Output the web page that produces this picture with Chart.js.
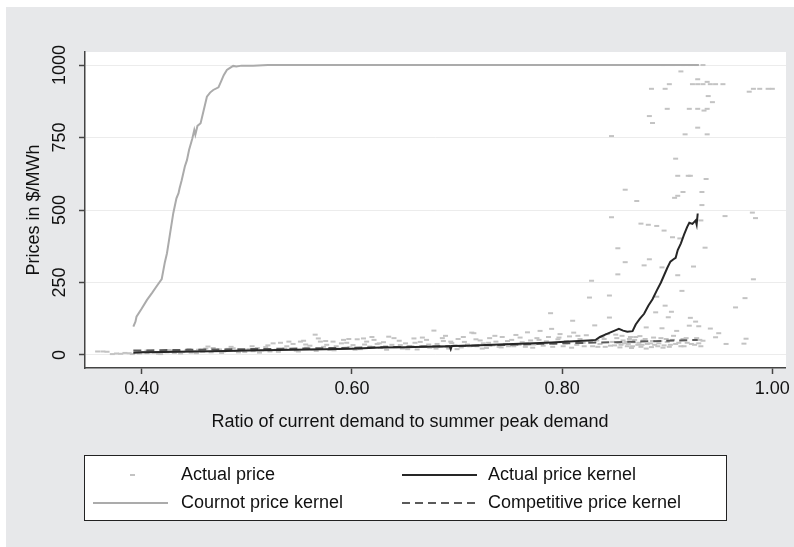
<!DOCTYPE html>
<html>
<head>
<meta charset="utf-8">
<script src="https://cdn.jsdelivr.net/npm/chart.js@4.4.1/dist/chart.umd.min.js"></script>
<style>
  body { margin: 0; background: #fff; }
  #myChart { display: block; }
</style>
</head>
<body>
<canvas id="myChart" width="794" height="547"></canvas>
<script>
// axis ticks
const xTicks = [0.40, 0.60, 0.80, 1.00];
const yTicks = [0, 250, 500, 750, 1000];

const seriesLabels = ['Actual price', 'Actual price kernel', 'Cournot price kernel', 'Competitive price kernel'];

// scatter of observed prices [ratio, $/MWh]
const actualPrice = [
  [0.358,12],[0.363,12],[0.367,11],[0.372,3],[0.376,5],[0.380,4],[0.384,7],[0.388,6],[0.391,3],[0.395,9],[0.398,5],
  [0.402,10],[0.405,6],[0.405,15],[0.409,12],[0.412,8],[0.416,4],[0.418,3],[0.420,11],[0.424,9],[0.426,17],[0.428,14],
  [0.431,7],[0.435,12],[0.437,5],[0.439,10],[0.443,16],[0.445,20],[0.447,8],[0.450,13],[0.452,6],[0.454,18],[0.458,11],
  [0.461,22],[0.463,29],[0.466,9],[0.468,24],[0.470,15],[0.474,19],[0.476,7],[0.478,12],[0.482,21],[0.485,28],[0.487,23],
  [0.490,14],[0.492,9],[0.494,17],[0.498,10],
  [0.502,20],[0.505,30],[0.506,13],[0.510,24],[0.512,8],[0.514,16],[0.518,27],[0.520,33],[0.522,12],[0.525,40],[0.528,18],
  [0.530,11],[0.532,42],[0.536,22],[0.538,30],[0.540,46],[0.544,38],[0.547,15],[0.549,12],[0.551,46],[0.554,49],[0.556,36],
  [0.557,25],[0.560,32],[0.563,19],[0.565,70],[0.566,14],[0.568,57],[0.570,46],[0.573,28],[0.575,48],[0.576,35],[0.579,17],
  [0.582,46],[0.583,16],[0.585,30],[0.588,22],[0.590,40],[0.592,52],[0.595,42],[0.597,55],[0.598,26],
  [0.601,34],[0.603,18],[0.605,54],[0.608,20],[0.611,57],[0.612,36],[0.614,46],[0.617,29],[0.619,62],[0.621,52],[0.624,38],
  [0.626,40],[0.627,24],[0.630,44],[0.632,30],[0.633,18],[0.635,63],[0.638,35],[0.640,58],[0.641,27],[0.645,49],[0.646,34],
  [0.648,22],[0.651,40],[0.653,20],[0.655,31],[0.659,57],[0.660,42],[0.662,19],[0.665,45],[0.667,60],[0.668,30],[0.671,52],
  [0.673,36],[0.674,25],[0.678,84],[0.680,22],[0.681,38],[0.684,28],[0.686,58],[0.687,48],[0.689,66],[0.692,22],[0.694,46],
  [0.695,41],[0.698,33],
  [0.700,20],[0.701,55],[0.704,26],[0.706,62],[0.707,45],[0.710,36],[0.712,30],[0.714,77],[0.716,75],[0.718,54],[0.719,30],
  [0.722,50],[0.724,22],[0.725,40],[0.728,24],[0.730,42],[0.731,58],[0.734,33],[0.736,66],[0.737,46],[0.740,28],[0.742,26],
  [0.743,62],[0.746,38],[0.748,48],[0.749,30],[0.752,52],[0.754,30],[0.756,69],[0.759,35],[0.760,60],[0.762,44],[0.765,28],
  [0.766,40],[0.767,78],[0.770,50],[0.772,25],[0.773,36],[0.776,58],[0.778,52],[0.779,83],[0.782,32],[0.784,40],[0.785,47],
  [0.787,62],[0.789,144],[0.790,90],[0.791,28],[0.793,38],[0.796,54],[0.797,60],[0.798,72],
  [0.801,30],[0.803,40],[0.804,48],[0.807,64],[0.809,25],[0.810,118],[0.811,77],[0.814,35],[0.815,66],[0.817,55],[0.820,42],
  [0.821,30],[0.823,68],[0.826,198],[0.827,48],[0.828,256],[0.829,30],[0.831,102],[0.833,50],[0.834,28],[0.836,38],[0.838,62],
  [0.840,55],[0.841,28],[0.843,72],[0.845,129],[0.845,205],[0.846,32],[0.847,475],[0.847,755],[0.848,45],[0.850,33],[0.851,70],
  [0.852,58],[0.853,368],[0.853,278],[0.854,42],[0.855,26],[0.856,35],[0.857,66],[0.858,50],[0.859,40],
  [0.860,320],[0.860,570],[0.861,45],[0.862,30],[0.863,38],[0.864,55],[0.865,62],[0.866,24],[0.867,30],[0.868,44],[0.869,52],
  [0.870,62],[0.871,531],[0.872,35],[0.873,42],[0.874,65],[0.875,453],[0.875,28],[0.876,35],[0.877,50],[0.878,309],[0.879,55],
  [0.880,95],[0.880,22],[0.881,38],[0.882,449],[0.883,330],[0.883,824],[0.884,40],[0.885,918],[0.885,27],[0.886,800],[0.886,48],
  [0.887,60],[0.888,35],[0.889,147],[0.890,445],[0.890,201],[0.891,30],[0.892,40],[0.893,48],[0.894,58],[0.895,302],[0.895,92],
  [0.896,25],[0.896,1000],[0.897,429],[0.897,33],[0.898,170],[0.898,918],[0.899,55],[0.900,849],[0.900,45],[0.901,130],
  [0.902,934],[0.902,28],[0.903,35],[0.904,149],[0.905,406],[0.905,52],[0.905,1000],[0.906,66],[0.907,542],[0.908,677],
  [0.908,38],[0.909,83],[0.910,549],[0.910,618],[0.910,275],[0.911,42],[0.912,402],[0.913,978],[0.913,30],[0.914,221],
  [0.915,562],[0.915,55],[0.915,1000],[0.916,30],[0.917,761],[0.918,58],[0.919,42],[0.920,618],[0.921,101],[0.921,849],
  [0.922,128],[0.922,618],[0.922,1000],[0.923,38],[0.924,934],[0.925,305],[0.926,35],[0.927,115],[0.928,58],[0.928,1000],
  [0.929,934],[0.929,849],[0.929,784],[0.929,951],[0.930,99],[0.930,40],[0.931,52],[0.932,464],[0.932,30],[0.933,517],
  [0.933,562],[0.934,49],[0.934,934],[0.934,1000],[0.935,843],[0.936,370],[0.937,607],[0.938,942],[0.938,849],[0.938,761],
  [0.939,893],[0.941,934],[0.941,91],[0.943,872],[0.946,934],[0.946,61],[0.949,75],[0.953,934],[0.955,479],[0.956,38],
  [0.965,164],[0.973,39],[0.974,196],[0.975,56],[0.978,908],[0.981,491],[0.982,261],[0.982,918],[0.984,472],[0.988,918],
  [0.996,918],[1.000,918]
];

const actualKernel = [
  [0.392,8],[0.400,9],[0.420,10],[0.450,12],[0.480,14],[0.500,15],[0.530,17],[0.560,19],[0.600,21],[0.627,26],[0.650,27],
  [0.680,29],[0.693,30],[0.694,20],[0.695,31],[0.709,32],[0.740,36],[0.773,40],[0.790,43],[0.811,47],[0.825,50],[0.832,52],
  [0.836,62],[0.841,70],[0.846,78],[0.850,84],[0.854,90],[0.858,84],[0.862,80],[0.867,82],[0.870,105],[0.874,125],[0.878,142],
  [0.882,170],[0.886,192],[0.890,222],[0.894,250],[0.897,275],[0.900,300],[0.903,322],[0.906,330],[0.908,335],[0.910,362],
  [0.913,385],[0.916,415],[0.919,442],[0.921,456],[0.924,452],[0.927,464],[0.928,450],[0.929,488]
];

const cournotKernel = [
  [0.392,98],[0.394,115],[0.395,132],[0.400,160],[0.405,190],[0.410,215],[0.414,236],[0.419,262],[0.422,320],[0.424,351],
  [0.427,420],[0.430,489],[0.433,540],[0.435,558],[0.436,575],[0.438,603],[0.441,650],[0.443,672],[0.445,707],[0.448,745],
  [0.450,776],[0.451,760],[0.453,790],[0.456,799],[0.459,845],[0.462,891],[0.465,905],[0.468,914],[0.473,923],[0.476,948],
  [0.478,965],[0.481,983],[0.484,990],[0.487,997],[0.490,995],[0.495,998],[0.506,998],[0.520,1000],[0.930,1000]
];

const competitiveKernel = [
  [0.392,15],[0.450,18],[0.500,20],[0.550,22],[0.600,25],[0.650,28],[0.700,31],[0.750,35],[0.800,40],[0.850,44],[0.900,49],[0.929,52]
];

const toXY = arr => arr.map(p => ({x: p[0], y: p[1]}));

const FONT = '"Liberation Sans", Arial, sans-serif';
const INK = '#444';

// grey frame + white plot region
const backdrop = {
  id: 'backdrop',
  beforeDraw(chart) {
    const ctx = chart.ctx;
    const a = chart.chartArea;
    ctx.save();
    ctx.fillStyle = '#fff';
    ctx.fillRect(0, 0, chart.width, chart.height);
    ctx.fillStyle = '#e7e8ea';
    ctx.fillRect(6, 7, chart.width - 6, chart.height - 7);
    ctx.fillStyle = '#fff';
    ctx.fillRect(a.left, a.top, a.right - a.left, a.bottom - a.top);
    ctx.restore();
  }
};

// x title + boxed legend below the plot
const stataLegend = {
  id: 'stataLegend',
  afterDraw(chart) {
    const ctx = chart.ctx;
    ctx.save();
    ctx.font = '18px ' + FONT;
    ctx.fillStyle = '#111';
    ctx.textBaseline = 'middle';
    ctx.textAlign = 'center';
    ctx.fillText('Ratio of current demand to summer peak demand', 410, 422);

    ctx.fillStyle = '#fff';
    ctx.fillRect(84.5, 455.5, 642, 65);
    ctx.strokeStyle = '#222';
    ctx.lineWidth = 1;
    ctx.strokeRect(84.5, 455.5, 642, 65);

    const ds = chart.data.datasets;
    const slots = [
      {i: 0, x: 93, tx: 181, y: 475},
      {i: 1, x: 402, tx: 488, y: 475},
      {i: 2, x: 93, tx: 181, y: 503},
      {i: 3, x: 402, tx: 488, y: 503}
    ];
    slots.forEach(s => {
      const d = ds[s.i];
      ctx.save();
      if (d.showLine) {
        ctx.strokeStyle = d.borderColor;
        ctx.lineWidth = d.borderWidth;
        ctx.setLineDash(d.borderDash || []);
        ctx.beginPath();
        ctx.moveTo(s.x, s.y);
        ctx.lineTo(s.x + 75, s.y);
        ctx.stroke();
      } else {
        ctx.strokeStyle = d.pointBorderColor;
        ctx.lineWidth = 2;
        ctx.beginPath();
        ctx.moveTo(130, s.y);
        ctx.lineTo(135, s.y);
        ctx.stroke();
      }
      ctx.restore();
      ctx.fillStyle = '#111';
      ctx.textAlign = 'left';
      ctx.fillText(d.label, s.tx, s.y);
    });
    ctx.restore();
  }
};

const ctx = document.getElementById('myChart').getContext('2d');
const myChart = new Chart(ctx, {
  type: 'scatter',
  data: {
    datasets: [{
      label: seriesLabels[0],
      data: toXY(actualPrice),
      showLine: false,
      pointStyle: 'line',
      pointRadius: 2.5,
      pointBorderWidth: 2,
      pointBorderColor: '#c3c3c3',
      pointBackgroundColor: '#c3c3c3',
      order: 4
    }, {
      label: seriesLabels[1],
      data: toXY(actualKernel),
      showLine: true,
      borderColor: '#262626',
      borderWidth: 2,
      pointRadius: 0,
      order: 1
    }, {
      label: seriesLabels[2],
      data: toXY(cournotKernel),
      showLine: true,
      borderColor: '#ababab',
      borderWidth: 2,
      pointRadius: 0,
      order: 3
    }, {
      label: seriesLabels[3],
      data: toXY(competitiveKernel),
      showLine: true,
      borderColor: '#5a5a5a',
      borderWidth: 2,
      borderDash: [8, 5],
      pointRadius: 0,
      order: 2
    }]
  },
  options: {
    responsive: false,
    animation: false,
    layout: { padding: { top: 52, right: 8, left: 0, bottom: 0 } },
    plugins: {
      legend: { display: false },
      tooltip: { enabled: false }
    },
    scales: {
      x: {
        type: 'linear',
        min: 0.346,
        max: 1.013,
        afterBuildTicks: s => { s.ticks = xTicks.map(v => ({value: v})); },
        afterFit: s => { s.height = 179; },
        ticks: {
          padding: 4,
          maxRotation: 0,
          color: '#111',
          font: { family: FONT, size: 18 },
          callback: v => Number(v).toFixed(2)
        },
        grid: { drawOnChartArea: false, tickLength: 6, tickColor: INK, tickWidth: 1.5 },
        border: { color: INK, width: 1.5 }
      },
      y: {
        type: 'linear',
        min: -45,
        max: 1045,
        afterBuildTicks: s => { s.ticks = yTicks.map(v => ({value: v})); },
        afterFit: s => { s.width = 85; },
        title: {
          display: true,
          text: 'Prices in $/MWh',
          color: '#111',
          font: { family: FONT, size: 18 },
          padding: { top: 23, bottom: 0 }
        },
        ticks: {
          minRotation: 90,
          maxRotation: 90,
          crossAlign: 'center',
          padding: -1,
          color: '#111',
          font: { family: FONT, size: 18 },
          callback: v => String(v)
        },
        grid: { color: '#ececec', lineWidth: 1, tickLength: 6, tickColor: INK, tickWidth: 1.5 },
        border: { color: INK, width: 1.5 }
      }
    }
  },
  plugins: [backdrop, stataLegend]
});
</script>
</body>
</html>
